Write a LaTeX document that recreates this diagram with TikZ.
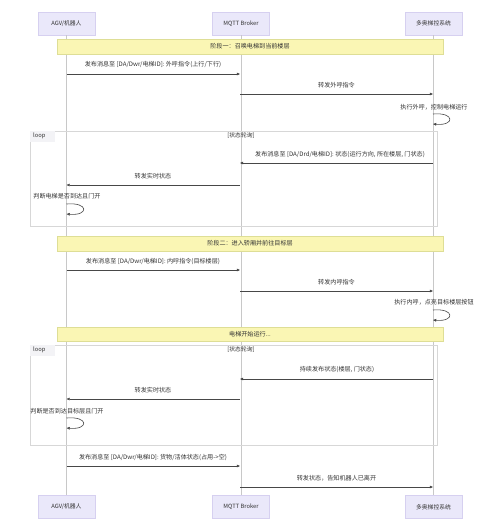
\documentclass[tikz,border=0pt]{standalone}
\usepackage{fontspec}
\setmainfont{Noto Sans CJK SC}
\usetikzlibrary{arrows.meta}
\definecolor{actfill}{RGB}{234,232,250}
\definecolor{actdraw}{RGB}{214,208,240}
\definecolor{bandfill}{RGB}{250,246,180}
\definecolor{banddraw}{RGB}{222,222,150}
\definecolor{txt}{RGB}{51,51,51}
\definecolor{lifec}{RGB}{200,200,200}
\definecolor{loopc}{RGB}{215,215,215}
\definecolor{labfill}{RGB}{243,243,246}
\tikzset{
  actor/.style={draw=actdraw, fill=actfill, minimum width=57pt, minimum height=23pt, inner sep=0pt, font=\fontsize{5.8}{7}\selectfont, text=txt},
  life/.style={draw=lifec, line width=0.5pt},
  msg/.style={draw=txt!90, line width=0.6pt, -{Triangle[length=3.2pt,width=2.6pt]}},
  mlabel/.style={font=\fontsize{6.1}{7}\selectfont, text=txt, inner sep=0pt},
  band/.style={draw=banddraw, fill=bandfill, line width=0.5pt},
  bandtext/.style={font=\fontsize{6.1}{7}\selectfont, text=txt, inner sep=0pt},
  loopbox/.style={draw=loopc, line width=0.6pt},
  looplab/.style={font=\fontsize{5.8}{7}\selectfont, text=txt, inner sep=0pt},
}
\begin{document}
\begin{tikzpicture}[x=1pt,y=-1pt]
\useasboundingbox[fill=white] (0,0) rectangle (500,531);

% participants
\node[actor] (a1) at (66.5,23.5) {AGV/机器人};
\node[actor] (b1) at (241,23.5) {MQTT Broker};
\node[actor] (c1) at (433.5,23.5) {多奥梯控系统};
\node[actor] (a2) at (66.5,507) {AGV/机器人};
\node[actor] (b2) at (241,507) {MQTT Broker};
\node[actor] (c2) at (433.5,507) {多奥梯控系统};

% lifelines
\draw[life] (a1.south) -- (a2.north);
\draw[life] (b1.south) -- (b2.north);
\draw[life] (c1.south) -- (c2.north);

% phase 1
\draw[band] (57,39) rectangle (443,54);
\node[bandtext] (p1) at (250,46.5) {阶段一：召唤电梯到当前楼层};

\coordinate (m1a) at (66.5,74); \coordinate (m1b) at (240,74);
\draw[msg] (m1a) -- (m1b);
\node[mlabel] (l1) at (153,65) {发布消息至 [DA/Dwr/电梯ID]: 外呼指令(上行/下行)};

\coordinate (m2a) at (240,94); \coordinate (m2b) at (433,94);
\draw[msg] (m2a) -- (m2b);
\node[mlabel] (l2) at (336.5,85) {转发外呼指令};

\node[mlabel] (l3) at (434,107) {执行外呼，控制电梯运行};
\coordinate (s1a) at (433,114); \coordinate (s1b) at (433,124);
\draw[msg] (s1a) .. controls (455,112) and (455,126) .. (s1b);

% loop 1
\draw[loopbox] (30,131) rectangle (437,226);
\fill[labfill] (30.3,131.3) rectangle (55,142);
\node[looplab, anchor=west] (lp1) at (33,135.5) {loop};
\node[looplab] (lc1) at (241,135.5) {[状态轮询]};

\coordinate (m3a) at (433,163); \coordinate (m3b) at (240,163);
\draw[msg] (m3a) -- (m3b);
\node[mlabel] (l4) at (340,155) {发布消息至 [DA/Drd/电梯ID]: 状态(运行方向, 所在楼层, 门状态)};

\coordinate (m4a) at (240,185); \coordinate (m4b) at (66.5,185);
\draw[msg] (m4a) -- (m4b);
\node[mlabel] (l5) at (153,176) {转发实时状态};

\node[mlabel] (l6) at (67,196) {判断电梯是否到达且门开};
\coordinate (s2a) at (66.5,204); \coordinate (s2b) at (66.5,214);
\draw[msg] (s2a) .. controls (89,202) and (89,216) .. (s2b);

% phase 2
\draw[band] (57,236) rectangle (443,251);
\node[bandtext] (p2) at (250,243.5) {阶段二：进入轿厢并前往目标层};

\coordinate (m5a) at (66.5,270); \coordinate (m5b) at (240,270);
\draw[msg] (m5a) -- (m5b);
\node[mlabel] (l7) at (153,261) {发布消息至 [DA/Dwr/电梯ID]: 内呼指令(目标楼层)};

\coordinate (m6a) at (240,291); \coordinate (m6b) at (433,291);
\draw[msg] (m6a) -- (m6b);
\node[mlabel] (l8) at (336.5,282) {转发内呼指令};

\node[mlabel] (l9) at (434,302) {执行内呼，点亮目标楼层按钮};
\coordinate (s3a) at (433,310); \coordinate (s3b) at (433,320);
\draw[msg] (s3a) .. controls (455,308) and (455,322) .. (s3b);

\draw[band] (57,327) rectangle (443,341);
\node[bandtext] (p3) at (250,334) {电梯开始运行...};

% loop 2
\draw[loopbox] (30,345) rectangle (437,445);
\fill[labfill] (30.3,345.3) rectangle (55,356);
\node[looplab, anchor=west] (lp2) at (33,349.5) {loop};
\node[looplab] (lc2) at (241,349.5) {[状态轮询]};

\coordinate (m7a) at (433,379); \coordinate (m7b) at (240,379);
\draw[msg] (m7a) -- (m7b);
\node[mlabel] (l10) at (337,370) {持续发布状态(楼层, 门状态)};

\coordinate (m8a) at (240,399); \coordinate (m8b) at (66.5,399);
\draw[msg] (m8a) -- (m8b);
\node[mlabel] (l11) at (153,390) {转发实时状态};

\node[mlabel] (l12) at (67,411) {判断是否到达目标层且门开};
\coordinate (s4a) at (66.5,418); \coordinate (s4b) at (66.5,428);
\draw[msg] (s4a) .. controls (89,416) and (89,430) .. (s4b);

% final
\coordinate (m9a) at (66.5,466); \coordinate (m9b) at (240,466);
\draw[msg] (m9a) -- (m9b);
\node[mlabel] (l13) at (153,457) {发布消息至 [DA/Dwr/电梯ID]: 货物/活体状态(占用->空)};

\coordinate (m10a) at (240,487); \coordinate (m10b) at (433,487);
\draw[msg] (m10a) -- (m10b);
\node[mlabel] (l14) at (336.5,478) {转发状态，告知机器人已离开};
\end{tikzpicture}
\end{document}
